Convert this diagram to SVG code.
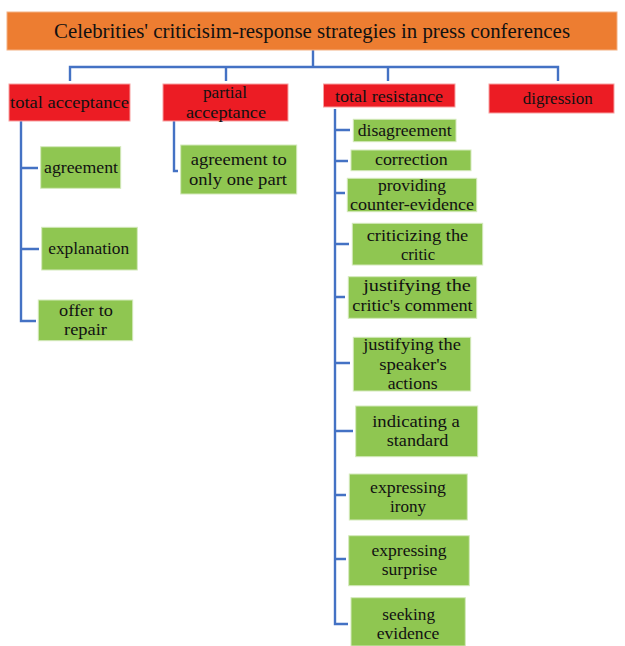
<svg xmlns="http://www.w3.org/2000/svg" width="625" height="646" viewBox="0 0 625 646">
<style>
text{font-family:"Liberation Serif","Times New Roman",serif;font-size:17px;fill:#111;text-anchor:middle}
.title{font-size:20px}
.org{fill:#ED7D31;stroke:#F4B183;stroke-width:1}
.red{fill:#EC1C24;stroke:#F8A0A0;stroke-width:1}
.grn{fill:#8FC651;stroke:#D4E9BC;stroke-width:1}
.ln{fill:none;stroke:#4472C4;stroke-width:2.4}
</style>
<rect width="625" height="646" fill="#fff"/>
<g id="connectors">
<path class="ln" d="M313,50 V67 M70,81 V67 H558 V81 M226,67 V81 M388,67 V81"/>
<path class="ln" d="M21,121 V321 H36 M21,168 H38 M21,249 H39"/>
<path class="ln" d="M174,121 V171 H178"/>
<path class="ln" d="M335,109 V624 H348 M335,130 H350 M335,161 H348 M335,193 H345 M335,244 H349 M335,297 H345 M335,363 H350 M335,431 H353 M335,495 H346 M335,559 H346"/>
</g>
<g id="title"><rect class="org" x="7" y="12" width="610" height="38"/><text class="title" x="312" y="37.5" textLength="516" lengthAdjust="spacingAndGlyphs">Celebrities' criticisim-response strategies in press conferences</text></g>
<g id="total-acceptance"><rect class="red" x="9" y="84" width="121" height="37"/><text x="69.5" y="108" textLength="119" lengthAdjust="spacingAndGlyphs">total acceptance</text></g>
<g id="partial-acceptance"><rect class="red" x="163" y="84" width="125" height="37"/><text x="225" y="98" textLength="44" lengthAdjust="spacingAndGlyphs">partial</text><text x="226" y="118" textLength="80" lengthAdjust="spacingAndGlyphs">acceptance</text></g>
<g id="total-resistance"><rect class="red" x="323.5" y="84" width="131.5" height="23"/><text x="389" y="102" textLength="108" lengthAdjust="spacingAndGlyphs">total resistance</text></g>
<g id="digression"><rect class="red" x="489" y="84" width="125" height="29"/><text x="557.7" y="104" textLength="70" lengthAdjust="spacingAndGlyphs">digression</text></g>
<g id="agreement"><rect class="grn" x="40.7" y="146.7" width="80" height="41.6"/><text x="81" y="173" textLength="74" lengthAdjust="spacingAndGlyphs">agreement</text></g>
<g id="explanation"><rect class="grn" x="41.7" y="227.3" width="95.6" height="42.7"/><text x="88.7" y="254" textLength="81" lengthAdjust="spacingAndGlyphs">explanation</text></g>
<g id="offer-to-repair"><rect class="grn" x="38.3" y="300" width="94.4" height="40.7"/><text x="86" y="316" textLength="54" lengthAdjust="spacingAndGlyphs">offer to</text><text x="85.5" y="335" textLength="43" lengthAdjust="spacingAndGlyphs">repair</text></g>
<g id="agreement-one-part"><rect class="grn" x="180.7" y="145" width="116" height="49"/><text x="238.7" y="165" textLength="96" lengthAdjust="spacingAndGlyphs">agreement to</text><text x="238" y="185" textLength="98" lengthAdjust="spacingAndGlyphs">only one part</text></g>
<g id="disagreement"><rect class="grn" x="353.3" y="119.3" width="102.7" height="22.4"/><text x="404.7" y="135.5" textLength="94" lengthAdjust="spacingAndGlyphs">disagreement</text></g>
<g id="correction"><rect class="grn" x="351" y="150" width="120" height="20.7"/><text x="411.3" y="165" textLength="72.7" lengthAdjust="spacingAndGlyphs">correction</text></g>
<g id="counter-evidence"><rect class="grn" x="347.3" y="178.3" width="129.4" height="33.4"/><text x="412" y="191" textLength="68" lengthAdjust="spacingAndGlyphs">providing</text><text x="412" y="210" textLength="124" lengthAdjust="spacingAndGlyphs">counter-evidence</text></g>
<g id="criticizing-critic"><rect class="grn" x="352.3" y="223.3" width="130.4" height="41.7"/><text x="417.5" y="241" textLength="101.6" lengthAdjust="spacingAndGlyphs">criticizing the</text><text x="418" y="260" textLength="34" lengthAdjust="spacingAndGlyphs">critic</text></g>
<g id="justifying-comment"><rect class="grn" x="348.3" y="276.7" width="128.4" height="41.6"/><text x="417" y="291" textLength="107.7" lengthAdjust="spacingAndGlyphs">justifying the</text><text x="412.5" y="311" textLength="120.4" lengthAdjust="spacingAndGlyphs">critic's comment</text></g>
<g id="justifying-actions"><rect class="grn" x="353.3" y="337.3" width="117.4" height="53.7"/><text x="412" y="350" textLength="97.7" lengthAdjust="spacingAndGlyphs">justifying the</text><text x="413" y="370" textLength="67.7" lengthAdjust="spacingAndGlyphs">speaker's</text><text x="412.7" y="389" textLength="50" lengthAdjust="spacingAndGlyphs">actions</text></g>
<g id="indicating-standard"><rect class="grn" x="355.7" y="406" width="122" height="50.7"/><text x="416" y="427" textLength="87.7" lengthAdjust="spacingAndGlyphs">indicating a</text><text x="417.5" y="446" textLength="61.6" lengthAdjust="spacingAndGlyphs">standard</text></g>
<g id="expressing-irony"><rect class="grn" x="349.3" y="474" width="118" height="46"/><text x="408" y="492.5" textLength="76" lengthAdjust="spacingAndGlyphs">expressing</text><text x="408" y="511.5" textLength="36" lengthAdjust="spacingAndGlyphs">irony</text></g>
<g id="expressing-surprise"><rect class="grn" x="348.7" y="535.7" width="120.6" height="50"/><text x="409" y="556" textLength="75" lengthAdjust="spacingAndGlyphs">expressing</text><text x="409.5" y="575" textLength="55.6" lengthAdjust="spacingAndGlyphs">surprise</text></g>
<g id="seeking-evidence"><rect class="grn" x="351" y="597.7" width="114.3" height="48.3"/><text x="408.7" y="620" textLength="52.7" lengthAdjust="spacingAndGlyphs">seeking</text><text x="408" y="639" textLength="62.6" lengthAdjust="spacingAndGlyphs">evidence</text></g>
</svg>
